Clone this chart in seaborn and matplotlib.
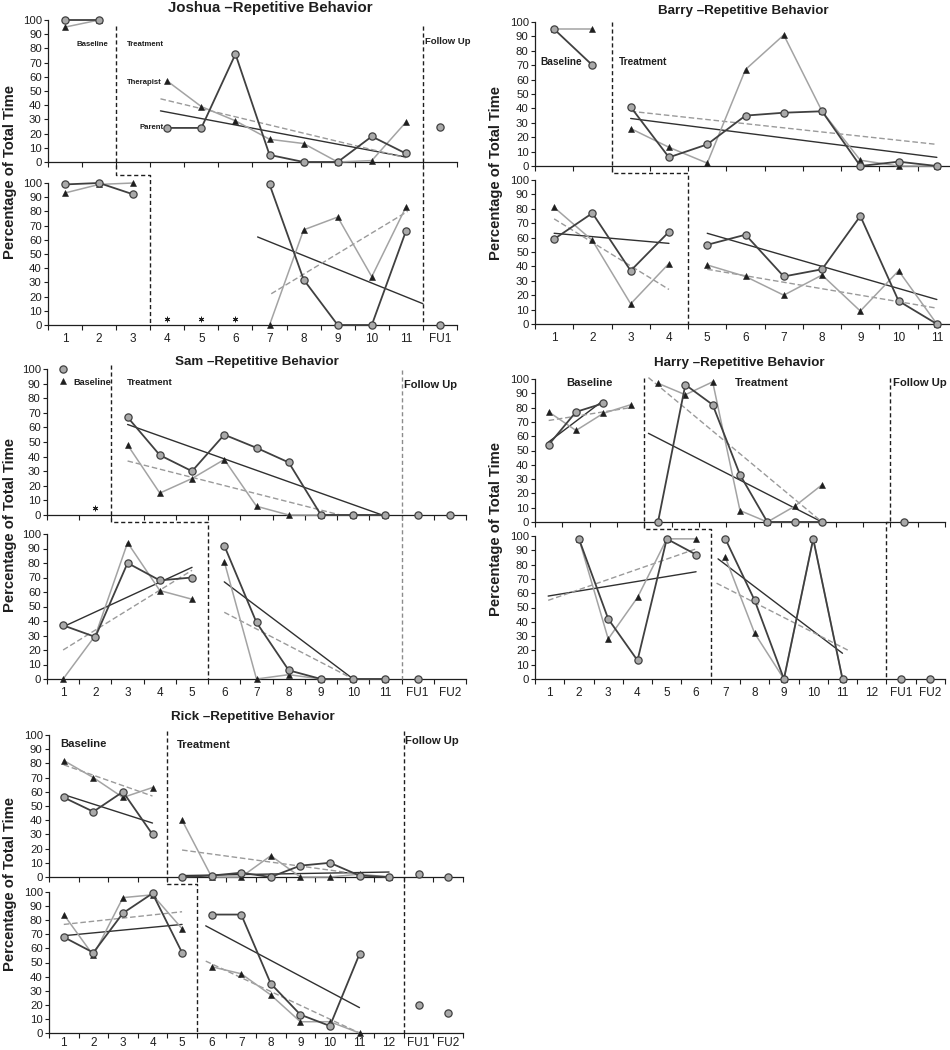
import numpy as np
import pandas as pd
import matplotlib
matplotlib.use('Agg')
import matplotlib.pyplot as plt
import seaborn as sns
from matplotlib.lines import Line2D

nan = np.nan

# ---- Joshua ----
josh_labels = ['1', '2', '3', '4', '5', '6', '7', '8', '9', '10', '11', 'FU1']
josh_top_parent = [100, 100, nan, 24, 24, 76, 5, 0, 0, 18, 6, 25]
josh_top_therapist = [95, 100, nan, 57, 39, 29, 16, 13, 0, 1, 28, nan]
josh_top_changes = [2.5, 11.5]
josh_top_trends = [('parent', 3.8, 36, 11, 3.5), ('therapist', 3.8, 44.5, 11, 3)]
josh_bot_parent = [99, 100, 92, nan, nan, nan, 99, 32, 0, 0, 66, 0]
josh_bot_therapist = [93, 99, 100, nan, nan, nan, 0, 67, 76, 34, 83, nan]
josh_bot_changes = [3.5, 11.5]
josh_bot_trends = [('parent', 6.65, 62, 11.5, 15), ('therapist', 7.05, 22, 11.05, 80)]
josh_bot_no_data = [4, 5, 6]

# ---- Barry ----
barry_labels = ['1', '2', '3', '4', '5', '6', '7', '8', '9', '10', '11']
barry_top_parent = [95, 70, 41, 6, 15, 35, 37, 38, 0, 3, 0]
barry_top_therapist = [95, 95, 26, 13, 2, 67, 91, 38, 4, 0, 0]
barry_top_changes = [2.5]
barry_top_trends = [('parent', 3, 33, 11, 6), ('therapist', 3, 38, 11, 15)]
barry_bot_parent = [59, 77, 37, 64, 55, 62, 33, 38, 75, 16, 0]
barry_bot_therapist = [81, 58, 14, 42, 41, 33, 20, 34, 9, 37, 0]
barry_bot_changes = [4.5]
barry_bot_trends = [('parent', 1, 63, 4, 56), ('therapist', 1, 73, 4, 24),
                    ('parent', 5, 63, 11, 17), ('therapist', 5, 38, 11, 11)]

# ---- Sam ----
sam_labels = ['1', '2', '3', '4', '5', '6', '7', '8', '9', '10', '11', 'FU1', 'FU2']
sam_top_parent = [100, nan, 67, 41, 30, 55, 46, 36, 0, 0, 0, 0, 0]
sam_top_therapist = [92, nan, 48, 15, 25, 38, 6, 0, 0, 0, 0, nan, nan]
sam_top_changes = [2.5, 11.5]
sam_top_trends = [('parent', 3, 62, 10.9, 0), ('therapist', 3, 37, 9.6, 0)]
sam_top_no_data = [2]
sam_bot_parent = [37, 29, 80, 68, 70, 92, 39, 6, 0, 0, 0, 0, nan]
sam_bot_therapist = [0, 30, 94, 61, 55, 81, 0, 3, 0, 0, 0, nan, nan]
sam_bot_changes = [5.5, 11.5]
sam_bot_trends = [('parent', 1, 36, 5, 77), ('therapist', 1, 20, 5, 75),
                  ('parent', 6, 67, 10, 0), ('therapist', 6, 46, 10, 0)]

# ---- Harry ----
harry_labels = ['1', '2', '3', '4', '5', '6', '7', '8', '9', '10', '11', '12', 'FU1', 'FU2']
harry_top_parent = [54, 77, 83, nan, 0, 96, 82, 33, 0, 0, 0, nan, nan, 0, nan]
harry_top_therapist = [77, 64, 76, 82, 97, 89, 98, 8, 0, 11, 26, nan, nan, nan, nan]
harry_top_changes = [4.5, 13.5]
harry_top_trends = [('parent', 1, 56, 3, 85), ('therapist', 1, 71, 4, 80),
                    ('parent', 4.65, 62, 11, 0), ('therapist', 4.65, 101, 11, 0)]
harry_bot_parent = [nan, 98, 42, 13, 98, 87, 98, 55, 0, 98, 0, nan, 0, 0]
harry_bot_therapist = [nan, 98, 28, 57, 98, 98, 85, 32, 0, 98, 0, nan, nan, nan]
harry_bot_changes = [6.5, 12.5]
harry_bot_trends = [('parent', 0.95, 58, 6, 75), ('therapist', 0.95, 55, 6, 91),
                    ('parent', 6.75, 84, 11, 18), ('therapist', 6.7, 67, 11.2, 20)]

# ---- Rick ----
rick_labels = ['1', '2', '3', '4', '5', '6', '7', '8', '9', '10', '11', '12', 'FU1', 'FU2']
rick_top_parent = [56, 46, 60, 30, 0, 1, 3, 0, 8, 10, 1, 0, 2, 0]
rick_top_therapist = [82, 70, 56, 63, 40, 0, 0, 15, 0, 0, 2, 0, nan, nan]
rick_top_changes = [4.5, 12.5]
rick_top_trends = [('parent', 1, 58, 4, 38), ('therapist', 1, 79, 4, 57),
                   ('parent', 5, 1, 12, 3.5), ('therapist', 5, 19, 11, 2)]
rick_bot_parent = [68, 57, 85, 99, 57, 84, 84, 35, 13, 5, 56, nan, 20, 14]
rick_bot_therapist = [84, 55, 96, 98, 74, 47, 42, 27, 8, 8, 0, nan, nan, nan]
rick_bot_changes = [5.5, 12.5]
rick_bot_trends = [('parent', 1, 69, 5, 77), ('therapist', 1, 77, 5, 86),
                   ('parent', 5.8, 76, 11, 18), ('therapist', 5.8, 51, 11, 0)]

INK = '#1e1e1e'
PARENT_LINE = '#404040'
PARENT_FACE = '#a9a9a9'
THER_LINE = '#a3a3a3'
TREND_P = '#303030'
TREND_T = '#9a9a9a'

sns.set_style('ticks')
plt.rcParams['font.family'] = ['Liberation Sans', 'DejaVu Sans']

W, H = 950, 1050
fig = plt.figure(figsize=(W / 100, H / 100), dpi=100)


def add_ax(left, right, top, bottom):
    return fig.add_axes([left / W, 1 - bottom / H, (right - left) / W, (bottom - top) / H])


def series_frame(values, changes):
    x = np.arange(1, len(values) + 1)
    phase = np.searchsorted(changes, x).astype(float)
    # follow-up sessions are not joined by a line
    if len(changes) > 1:
        phase = np.where(x > changes[-1], 100 + x, phase)
    df = pd.DataFrame({'x': x, 'value': values, 'phase': phase})
    return df.dropna()


def style_axes(ax, n, labels, label_pad):
    ax.set_xlim(0.5, n + 0.5)
    ax.set_ylim(0, 100)
    ax.set_yticks(range(0, 101, 10))
    ax.set_xticks(np.arange(0.5, n + 1))
    ax.set_xticklabels([])
    if labels:
        ax.set_xticks(np.arange(1, n + 1), labels, minor=True)
    ax.tick_params(axis='x', which='major', direction='out', length=3.5, width=0.8, color=INK)
    ax.tick_params(axis='x', which='minor', length=0, labelsize=8.5, pad=label_pad, colors=INK)
    ax.tick_params(axis='y', direction='out', length=3, width=0.8, labelsize=8.2, pad=1.5, colors=INK)
    ax.set_xlabel('')
    ax.set_ylabel('')
    sns.despine(ax=ax)
    for s in ['left', 'bottom']:
        ax.spines[s].set_linewidth(0.9)
        ax.spines[s].set_color(INK)
    ax.patch.set_alpha(0)


def draw_subplot(ax, n, parent, therapist, changes, trends, labels=None, no_data=None,
                 label_pad=6):
    dt = series_frame(therapist, changes)
    sns.lineplot(data=dt, x='x', y='value', units='phase', estimator=None, ax=ax,
                 color=THER_LINE, linewidth=1.1, marker='^', markersize=4.3,
                 markerfacecolor=INK, markeredgecolor=INK, markeredgewidth=0.4,
                 clip_on=False, zorder=3, legend=False)
    dp = series_frame(parent, changes)
    sns.lineplot(data=dp, x='x', y='value', units='phase', estimator=None, ax=ax,
                 color=PARENT_LINE, linewidth=1.3, marker='o', markersize=5.2,
                 markerfacecolor=PARENT_FACE, markeredgecolor=PARENT_LINE,
                 markeredgewidth=0.9, clip_on=False, zorder=4, legend=False)
    for who, x0, y0, x1, y1 in trends:
        if who == 'parent':
            sns.lineplot(x=[x0, x1], y=[y0, y1], ax=ax, estimator=None, color=TREND_P,
                         linewidth=1.0, zorder=2, legend=False, clip_on=False)
        else:
            sns.lineplot(x=[x0, x1], y=[y0, y1], ax=ax, estimator=None, color=TREND_T,
                         linewidth=1.0, linestyle=(0, (4, 2)), zorder=2, legend=False,
                         clip_on=False)
    if no_data:
        sns.scatterplot(x=no_data, y=[4.5] * len(no_data), marker=(6, 2, 0), s=12,
                        color=INK, linewidth=0.7, ax=ax, legend=False)
    style_axes(ax, n, labels, label_pad)


def fig_xy(ax, x, y):
    return fig.transFigure.inverted().transform(ax.transData.transform((x, y)))


def phase_line(ax_t, ax_b, xt, xb, drop_px, color=INK, ytop=100):
    p1 = fig_xy(ax_t, xt, ytop)
    p2 = fig_xy(ax_t, xt, 0)
    p4 = fig_xy(ax_b, xb, 0)
    yk = p2[1] - drop_px / H
    fig.add_artist(Line2D([p1[0], p2[0], p4[0], p4[0]], [p1[1], yk, yk, p4[1]],
                          transform=fig.transFigure, color=color, linewidth=1.0,
                          linestyle=(0, (3, 2))))


def panel_text(title, tx, ty, ylabel_x, ycenter, tsize=9.6):
    fig.text(tx / W, 1 - ty / H, title, ha='center', va='center', fontsize=tsize,
             fontweight='bold', color=INK)
    fig.text(ylabel_x / W, 1 - ycenter / H, 'Percentage of Total Time', rotation=90,
             ha='center', va='center', fontsize=10.6, fontweight='bold', color=INK)


def phase_label(ax, x, y, s, size, ha='left'):
    ax.text(x, y, s, ha=ha, va='center', fontsize=size, fontweight='bold', color=INK)


# ---- Joshua ----
jt = add_ax(48, 457, 20, 162)
jb = add_ax(48, 457, 183, 325)
draw_subplot(jt, 12, josh_top_parent, josh_top_therapist, josh_top_changes, josh_top_trends)
draw_subplot(jb, 12, josh_bot_parent, josh_bot_therapist, josh_bot_changes, josh_bot_trends,
             labels=josh_labels, no_data=josh_bot_no_data)
phase_line(jt, jb, 2.5, 3.5, 13, ytop=96)
phase_line(jt, jb, 11.5, 11.5, 0, ytop=96)
panel_text('Joshua \u2013Repetitive Behavior', 270, 8, 10, 172, tsize=10.8)
phase_label(jt, 1.35, 83, 'Baseline', 5.6)
phase_label(jt, 2.82, 83, 'Treatment', 5.6)
phase_label(jt, 11.55, 85, 'Follow Up', 6.8)
phase_label(jt, 3.85, 56, 'Therapist', 5.6, ha='right')
phase_label(jt, 3.88, 24, 'Parent', 5.6, ha='right')

# ---- Barry ----
bt = add_ax(535, 956, 22, 166)
bb = add_ax(535, 956, 180, 324)
draw_subplot(bt, 11, barry_top_parent, barry_top_therapist, barry_top_changes, barry_top_trends)
draw_subplot(bb, 11, barry_bot_parent, barry_bot_therapist, barry_bot_changes, barry_bot_trends,
             labels=barry_labels)
phase_line(bt, bb, 2.5, 4.5, 7)
panel_text('Barry \u2013Repetitive Behavior', 743, 11, 496, 173)
phase_label(bt, 0.63, 72, 'Baseline', 7.3)
phase_label(bt, 2.7, 72, 'Treatment', 7.3)

# ---- Sam ----
st = add_ax(47, 466, 369, 515)
sb = add_ax(47, 466, 534, 679)
draw_subplot(st, 13, sam_top_parent, sam_top_therapist, sam_top_changes, sam_top_trends,
             no_data=sam_top_no_data)
draw_subplot(sb, 13, sam_bot_parent, sam_bot_therapist, sam_bot_changes, sam_bot_trends,
             labels=sam_labels)
phase_line(st, sb, 2.5, 5.5, 7, ytop=103)
phase_line(st, sb, 11.5, 11.5, 0, color='#8c8c8c', ytop=99)
panel_text('Sam \u2013Repetitive Behavior', 257, 362, 10, 525)
phase_label(st, 1.33, 91, 'Baseline', 6.6)
phase_label(st, 2.97, 91, 'Treatment', 6.8)
phase_label(st, 11.58, 89, 'Follow Up', 8)

# ---- Harry ----
ht = add_ax(535, 945, 379, 522)
hb = add_ax(535, 945, 536, 679)
draw_subplot(ht, 15, harry_top_parent, harry_top_therapist, harry_top_changes, harry_top_trends)
draw_subplot(hb, 14, harry_bot_parent, harry_bot_therapist, harry_bot_changes, harry_bot_trends,
             labels=harry_labels)
phase_line(ht, hb, 4.5, 6.5, 7, ytop=101)
phase_line(ht, hb, 13.5, 12.5, 0, ytop=101)
panel_text('Harry \u2013Repetitive Behavior', 739, 363, 496, 529)
phase_label(ht, 2.5, 97, 'Baseline', 8.1, ha='center')
phase_label(ht, 8.8, 97, 'Treatment', 8.1, ha='center')
phase_label(ht, 13.6, 97, 'Follow Up', 8.1)

# ---- Rick ----
rt = add_ax(49, 463, 735, 877)
rb = add_ax(49, 463, 892, 1033)
draw_subplot(rt, 14, rick_top_parent, rick_top_therapist, rick_top_changes, rick_top_trends)
draw_subplot(rb, 14, rick_bot_parent, rick_bot_therapist, rick_bot_changes, rick_bot_trends,
             labels=rick_labels, label_pad=3)
phase_line(rt, rb, 4.5, 5.5, 7, ytop=103)
phase_line(rt, rb, 12.5, 12.5, 0, ytop=103)
panel_text('Rick \u2013Repetitive Behavior', 253, 717, 10, 884)
phase_label(rt, 0.87, 94, 'Baseline', 8.1)
phase_label(rt, 4.82, 93, 'Treatment', 8.1)
phase_label(rt, 12.55, 96, 'Follow Up', 8.1)

fig.savefig('out.png', dpi=100)
plt.close(fig)
